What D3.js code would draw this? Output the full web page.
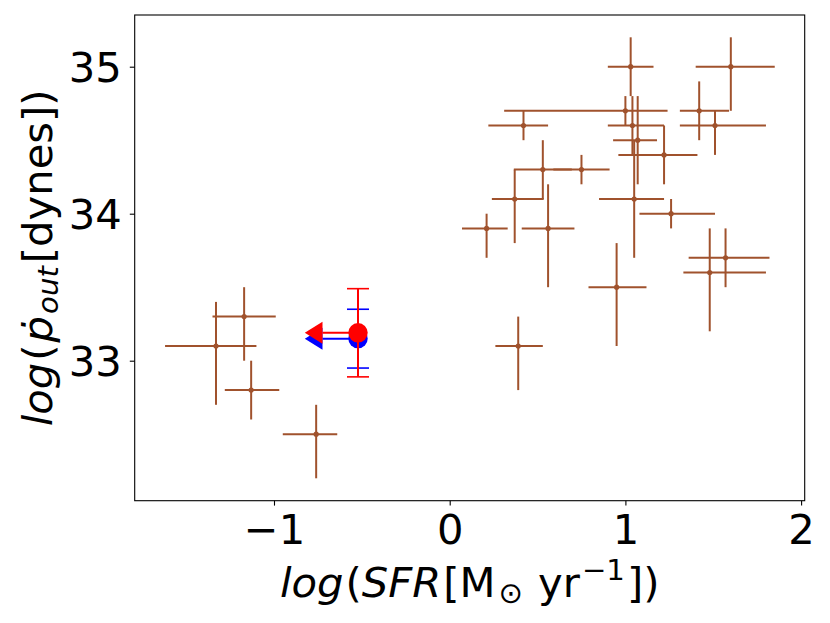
<!DOCTYPE html>
<html><head><meta charset="utf-8">
<script src="https://cdn.jsdelivr.net/npm/d3@7"></script>
<style>body{margin:0;background:#fff}svg{display:block}text{font-family:"DejaVu Sans",sans-serif}</style>
</head><body><svg id="c" width="830" height="623"></svg>
<script>
// ---- data ----
const sfr      = [1.03, 1.60, 1.00, 0.42, 1.04, 1.07, 1.22, 1.42, 1.51, 0.53, 0.75, 0.37, 1.05, 1.26, 0.21, 0.56, 0.95, 1.57, 1.48, 0.39, -1.33, -1.17, -1.13, -0.76];
const pout     = [35.0, 35.0, 34.7, 34.6, 34.6, 34.5, 34.4, 34.7, 34.6, 34.3, 34.3, 34.1, 34.1, 34.0, 33.9, 33.9, 33.5, 33.7, 33.6, 33.1, 33.1, 33.3, 32.8, 32.5];
const sfrErrLo = [0.13, 0.20, 0.69, 0.20, 0.14, 0.14, 0.26, 0.11, 0.20, 0.165, 0.16, 0.13, 0.20, 0.18, 0.14, 0.15, 0.16, 0.21, 0.15, 0.13, 0.29, 0.18, 0.15, 0.19];
const sfrErrHi = [0.13, 0.25, 0.24, 0.14, 0.18, 0.11, 0.19, 0.17, 0.29, 0.165, 0.16, 0.165, 0.17, 0.25, 0.12, 0.15, 0.17, 0.25, 0.32, 0.14, 0.23, 0.18, 0.16, 0.12];
const poutErrLo= [0.2, 0.3, 0.1, 0.1, 0.2, 0.3, 0.2, 0.2, 0.2, 0.2, 0.1, 0.3, 0.4, 0.1, 0.2, 0.4, 0.4, 0.2, 0.4, 0.3, 0.4, 0.3, 0.2, 0.3];
const poutErrHi= [0.2, 0.2, 0.1, 0.1, 0.2, 0.3, 0.2, 0.2, 0.1, 0.2, 0.1, 0.2, 0.4, 0.1, 0.1, 0.3, 0.3, 0.2, 0.3, 0.2, 0.3, 0.2, 0.2, 0.2];

// upper-limit points (blue then red)
const limName  = ["blue", "red"];
const limSfr   = [-0.524, -0.524];
const limPout  = [33.15, 33.19];
const limPErr  = [0.2, 0.3];
const limArrow = [0.2, 0.2];
const limColor = ["#0000ff", "#ff0000"];

const xTicks = [-1, 0, 1, 2];
const yTicks = [33, 34, 35];

// ---- layout ----
const L = 134.7, R = 804.7, T = 15, B = 500.7;
const svg = d3.select("#c");
const x = d3.scaleLinear().domain([-1.7928, 2.0205]).range([L, R]);
const y = d3.scaleLinear().domain([32.0476, 35.3517]).range([B, T]);
const FS = 41.7;

// axes
const xAxis = d3.axisBottom(x).tickValues(xTicks).tickSize(4.9).tickPadding(6)
  .tickFormat(d => d < 0 ? "\u2212" + Math.abs(d) : String(d));
const yAxis = d3.axisLeft(y).tickValues(yTicks).tickSize(4.9).tickPadding(8).tickFormat(d3.format("d"));

const gx = svg.append("g").attr("transform", `translate(0,${B})`).call(xAxis);
const gy = svg.append("g").attr("transform", `translate(${L},0)`).call(yAxis);
[gx, gy].forEach(g => {
  g.select(".domain").remove();
  g.selectAll(".tick line").attr("stroke", "#000").attr("stroke-width", 1.1);
  g.selectAll(".tick text").attr("font-family", "DejaVu Sans").attr("font-size", FS).attr("fill", "#000");
});
gx.selectAll(".tick text").attr("dy", null).attr("y", 43.3);
gy.selectAll(".tick text").attr("dy", "0.36em");

// data marks
const col = "#a0522d";
const pts = svg.append("g");
sfr.forEach((sx, i) => {
  const g = pts.append("g");
  g.append("line").attr("x1", x(sx - sfrErrLo[i])).attr("x2", x(sx + sfrErrHi[i]))
    .attr("y1", y(pout[i])).attr("y2", y(pout[i])).attr("stroke", col).attr("stroke-width", 2);
  g.append("line").attr("x1", x(sx)).attr("x2", x(sx))
    .attr("y1", y(pout[i] - poutErrLo[i])).attr("y2", y(pout[i] + poutErrHi[i])).attr("stroke", col).attr("stroke-width", 2);
  g.append("circle").attr("cx", x(sx)).attr("cy", y(pout[i])).attr("r", 2.6).attr("fill", col);
});

// upper-limit points
limName.forEach((n, i) => {
  const g = svg.append("g");
  const cx = Math.round(x(limSfr[i])), cy = y(limPout[i]), c = limColor[i];
  const y1 = y(limPout[i] + limPErr[i]), y2 = y(limPout[i] - limPErr[i]);
  g.append("line").attr("x1", cx).attr("x2", cx).attr("y1", y1).attr("y2", y2).attr("stroke", c).attr("stroke-width", 2);
  [y1, y2].forEach(yy => g.append("line").attr("x1", cx - 11).attr("x2", cx + 11).attr("y1", yy).attr("y2", yy)
    .attr("stroke", c).attr("stroke-width", 1.6));
  const ax = x(limSfr[i] - limArrow[i]);
  g.append("line").attr("x1", ax).attr("x2", cx).attr("y1", cy).attr("y2", cy).attr("stroke", c).attr("stroke-width", 2);
  g.append("path").attr("d", `M${ax},${cy - 11}L${ax - 17.7},${cy}L${ax},${cy + 11}Z`).attr("fill", c);
  g.append("circle").attr("cx", cx).attr("cy", cy).attr("r", 9.7).attr("fill", c);
});

// frame
svg.append("rect").attr("x", L).attr("y", T).attr("width", R - L).attr("height", B - T)
  .attr("fill", "none").attr("stroke", "#000").attr("stroke-width", 1.1);

// x label
const xl = svg.append("text").attr("x", (L + R) / 2).attr("y", 596.7).attr("text-anchor", "middle")
  .attr("font-size", FS).attr("fill", "#000");
xl.append("tspan").attr("font-style", "italic").text("log");
xl.append("tspan").attr("dx", 2).text("(");
xl.append("tspan").attr("font-style", "italic").text("SFR");
xl.append("tspan").attr("dx", 2).text("[M");
xl.append("tspan").attr("font-size", FS * 0.7).attr("dx", 3).attr("dy", 6).text("\u2299");
xl.append("tspan").attr("dx", 2).attr("dy", -6).text(" yr");
xl.append("tspan").attr("font-size", FS * 0.7).attr("dx", 2).attr("dy", -17).text("\u22121");
xl.append("tspan").attr("dx", 2).attr("dy", 17).text("])");

// y label
const yl = svg.append("text").attr("transform", `translate(52,${(T + B) / 2}) rotate(-90)`)
  .attr("text-anchor", "middle").attr("font-size", FS).attr("fill", "#000");
yl.append("tspan").attr("font-style", "italic").text("log");
yl.append("tspan").attr("dx", 2).text("(");
yl.append("tspan").attr("font-style", "italic").attr("dx", 2).text("\u1E57");
yl.append("tspan").attr("font-style", "italic").attr("font-size", FS * 0.7).attr("dx", 2).attr("dy", 6).text("out");
yl.append("tspan").attr("dx", 3).attr("dy", -6).text("[dynes])");
</script></body></html>
